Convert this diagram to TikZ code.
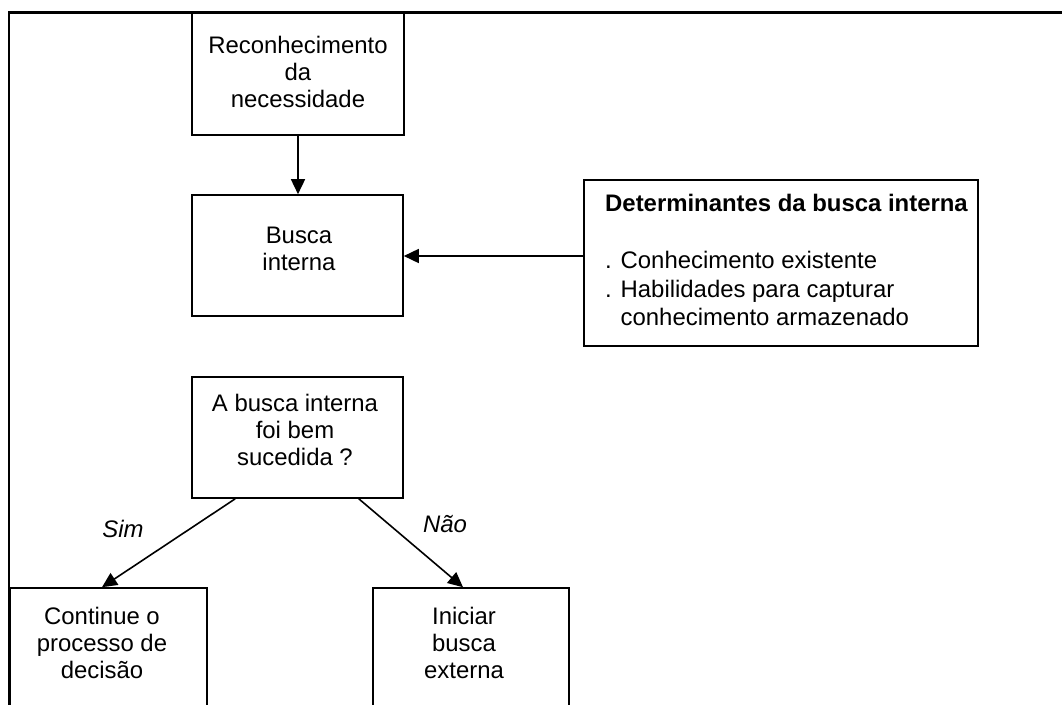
\documentclass[tikz,border=0pt]{standalone}
\usepackage{fontspec}
\setmainfont{Liberation Sans}
\usetikzlibrary{arrows.meta}

\begin{document}
\begin{tikzpicture}[x=1pt, y=-1pt,
  box/.style={draw=black, line width=1.6pt, rectangle, inner sep=0pt, fill=none},
  txt/.style={align=center, inner sep=0pt, font=\fontsize{23.9}{27}\selectfont},
  lbl/.style={inner sep=0pt, font=\fontsize{23.9}{27}\selectfont\itshape},
  conn/.style={line width=1.6pt, -{Triangle[width=14pt, length=15pt]}},
  frame/.style={line width=2.2pt}]

  \useasboundingbox (0,0) rectangle (1062,704);
  \clip (0,0) rectangle (1062,704);

  % outer frame (open to the right and bottom)
  \draw[frame] (9,720) -- (9,12.5) -- (1080,12.5);

  % boxes
  \node[box, minimum width=212pt, minimum height=122pt] (rec) at (298,74) {};
  \node[txt] (rect) at (298,72) {Reconhecimento\\da\\necessidade};

  \node[box, minimum width=211pt, minimum height=121pt] (bi) at (297.5,255.5) {};
  \node[txt] (bit) at (299,248.5) {Busca\\interna};

  \node[box, minimum width=394pt, minimum height=166pt] (det) at (781,263) {};
  \node[txt, align=left, anchor=west, font=\fontsize{23.9}{28.5}\selectfont] (dett) at (605,260)
    {\textbf{Determinantes da busca interna}\\[28.5pt]
     . Conhecimento existente\\
     . Habilidades para capturar\\
     \phantom{. }conhecimento armazenado};

  \node[box, minimum width=211pt, minimum height=121pt] (dec) at (297.5,437.5) {};
  \node[txt] (dect) at (295,430) {A busca interna\\foi bem\\sucedida ?};

  \node[box, minimum width=197pt, minimum height=121pt] (cont) at (108.5,648.5) {};
  \node[txt] (contt) at (102,643) {Continue o\\processo de\\decisão};

  \node[box, minimum width=196pt, minimum height=121pt] (ini) at (471,648.5) {};
  \node[txt] (init) at (464,643) {Iniciar\\busca\\externa};

  % connector end points
  \coordinate (detin) at ([yshift=7pt]det.west);
  \coordinate (simout) at ([xshift=44pt]dec.south west);
  \coordinate (naoout) at ([xshift=-45pt]dec.south east);
  \coordinate (contin) at ([xshift=-6.5pt]cont.north);
  \coordinate (iniin) at ([xshift=-8pt]ini.north);

  % connectors
  \draw[conn] (rec.south) -- (rec.south |- bi.north);
  \draw[conn] (detin) -- (bi.east |- detin);
  \draw[conn] (simout) -- (contin);
  \draw[conn] (naoout) -- (iniin);

  % branch labels
  \node[lbl] (sim) at (123,529) {Sim};
  \node[lbl] (nao) at (445,524) {Não};
\end{tikzpicture}
\end{document}
